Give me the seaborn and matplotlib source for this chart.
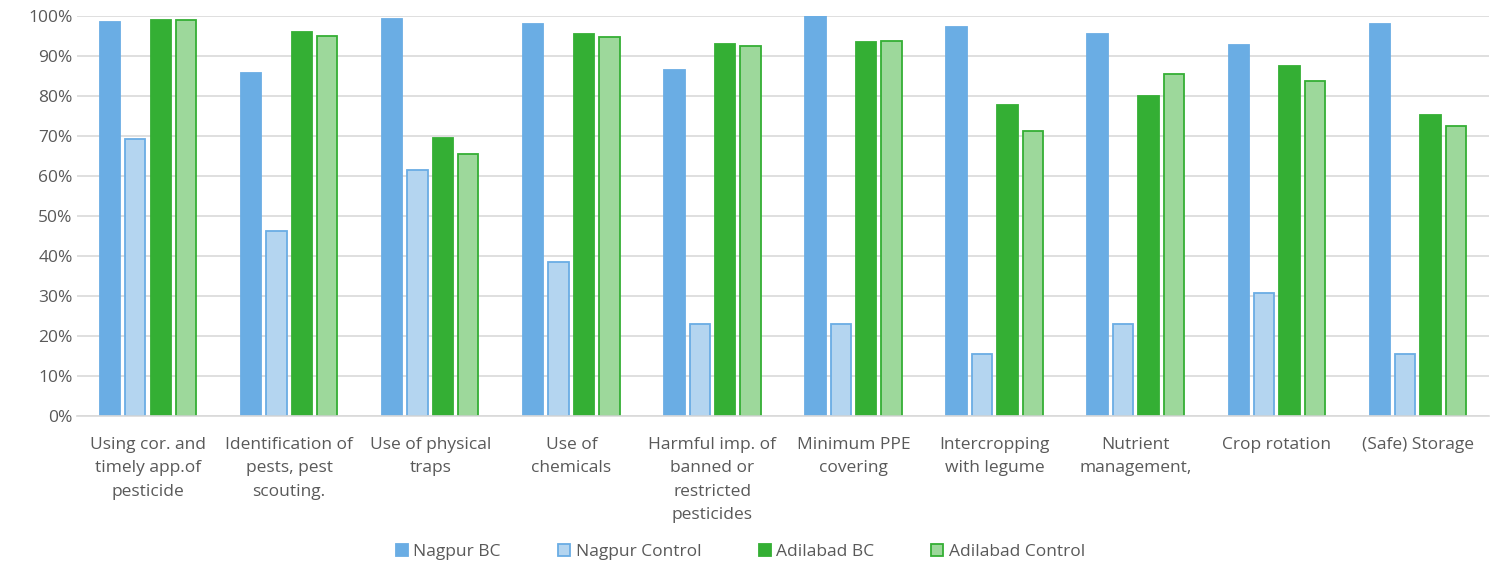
import matplotlib
matplotlib.use("Agg")
import matplotlib.pyplot as plt
import seaborn as sns
import pandas as pd
from matplotlib.ticker import PercentFormatter, MultipleLocator
from matplotlib.patches import Patch

categories = [
    "Using cor. and\ntimely app.of\npesticide",
    "Identification of\npests, pest\nscouting.",
    "Use of physical\ntraps",
    "Use of\nchemicals",
    "Harmful imp. of\nbanned or\nrestricted\npesticides",
    "Minimum PPE\ncovering",
    "Intercropping\nwith legume",
    "Nutrient\nmanagement,",
    "Crop rotation",
    "(Safe) Storage",
]
series_names = ["Nagpur BC", "Nagpur Control", "Adilabad BC", "Adilabad Control"]
nagpur_bc = [98.6, 85.7, 99.2, 97.9, 86.4, 100.0, 97.3, 95.4, 92.8, 97.9]
nagpur_control = [69.2, 46.2, 61.5, 38.5, 23.1, 23.1, 15.4, 23.1, 30.8, 15.4]
adilabad_bc = [99.0, 96.0, 69.5, 95.6, 93.0, 93.5, 77.8, 80.0, 87.5, 75.2]
adilabad_control = [99.1, 95.0, 65.5, 94.7, 92.6, 93.7, 71.3, 85.4, 83.8, 72.4]

fills = ["#6aade4", "#b4d5f0", "#34af34", "#9dd89b"]
edges = ["#6aade4", "#6aade4", "#34af34", "#34af34"]

rows = []
for s, vals in zip(series_names, [nagpur_bc, nagpur_control, adilabad_bc, adilabad_control]):
    for c, v in zip(categories, vals):
        rows.append({"category": c, "series": s, "value": v})
df = pd.DataFrame(rows)

sns.set_theme(style="white")
plt.rcParams["font.family"] = ["Open Sans", "DejaVu Sans"]

fig = plt.figure(figsize=(14.9, 5.63), dpi=100)
ax = fig.add_axes([0.052, 0.261, 0.947, 0.7106])

sns.barplot(data=df, x="category", y="value", hue="series", order=categories,
            hue_order=series_names, palette=fills, width=0.72, gap=0.2,
            ax=ax, legend=False, saturation=1)

for cont, fc, ec in zip(ax.containers, fills, edges):
    for p in cont:
        p.set_facecolor(fc)
        p.set_edgecolor(ec)
        p.set_linewidth(1.3)

ax.set_ylim(0, 100)
ax.set_xlim(-0.5, len(categories) - 0.5)
ax.yaxis.set_major_locator(MultipleLocator(10))
ax.yaxis.set_major_formatter(PercentFormatter(decimals=0))
ax.grid(axis="y", color="#d9d9d9", linewidth=1.2)
ax.set_axisbelow(True)
for sp in ["top", "right", "left"]:
    ax.spines[sp].set_visible(False)
ax.spines["bottom"].set_color("#d9d9d9")
ax.spines["bottom"].set_linewidth(1.2)
ax.set_xlabel("")
ax.set_ylabel("")
ax.tick_params(axis="both", length=0, colors="#595959", labelsize=12.5)
ax.tick_params(axis="x", pad=15)
for lab in ax.get_xticklabels():
    lab.set_linespacing(1.62)

handles = [Patch(facecolor=f, edgecolor=e, linewidth=1.3, label=n)
           for f, e, n in zip(fills, edges, series_names)]
leg = fig.legend(handles=handles, loc="center", bbox_to_anchor=(0.497, 0.0195),
                 ncol=4, frameon=False, fontsize=12.5, handlelength=0.7,
                 handleheight=0.7, handletextpad=0.3, columnspacing=3.3)
for t in leg.get_texts():
    t.set_color("#595959")

fig.savefig("out.png", dpi=100)
